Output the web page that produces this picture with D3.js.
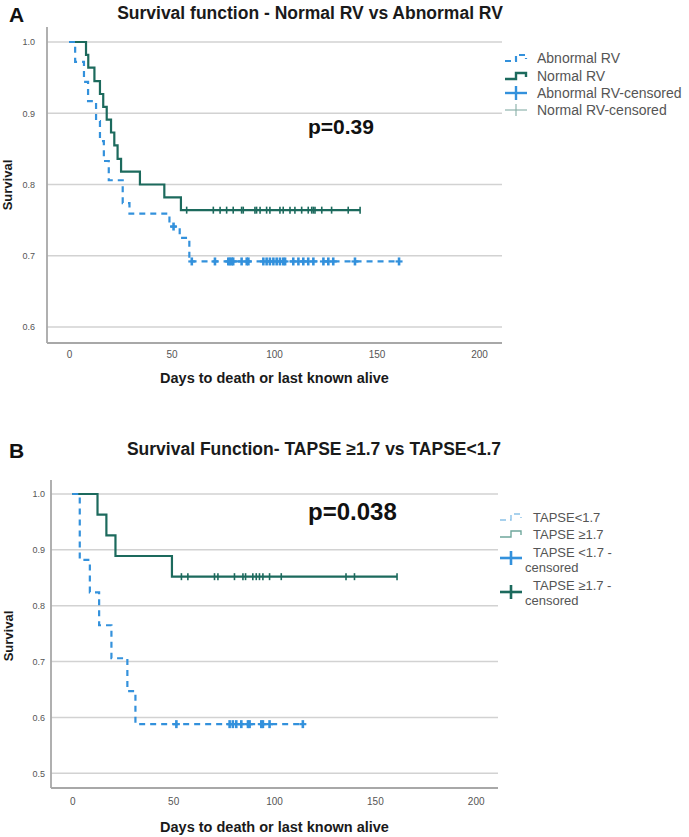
<!DOCTYPE html>
<html>
<head>
<meta charset="utf-8">
<script src="https://cdn.jsdelivr.net/npm/d3@7"></script>
<style>
  html, body { margin: 0; padding: 0; background: #fff; }
  svg { display: block; font-family: "Liberation Sans", Arial, sans-serif; }
</style>
</head>
<body>
<svg id="chart" width="689" height="837"></svg>
<script>
// ---------------- DATA ----------------
// Panel A
const titleA = "Survival function - Normal RV vs Abnormal RV";
const abnTimes = [3, 7.3, 9.3, 13.2, 15.1, 17, 19.4, 26.2, 29.5, 49, 54, 58.7];
const abnSurv  = [0.972, 0.944, 0.917, 0.889, 0.861, 0.833, 0.806, 0.774, 0.759, 0.741, 0.725, 0.692];
const abnCens  = [51, 59.9, 71.2, 77.7, 78.5, 79.4, 80.1, 84.2, 86.7, 87.5, 94.8, 96.4, 98, 99.7, 101.3, 102.9, 104.5, 105.4, 109.4, 111.9, 114.3, 116.7, 119.2, 124.1, 126.5, 128.9, 139.5, 161];
const norTimes = [8.3, 9.4, 12.4, 15.1, 16.7, 18.4, 20.5, 22.1, 23.7, 25.4, 34.6, 46.5, 54.6];
const norSurv  = [0.982, 0.964, 0.945, 0.927, 0.909, 0.891, 0.873, 0.855, 0.836, 0.818, 0.800, 0.782, 0.764];
const norCens  = [57.4, 70.4, 73.7, 76.9, 80.1, 84.2, 85, 90.7, 91.5, 93.2, 96.4, 98, 102.9, 104.5, 107.8, 110.2, 113.5, 116.7, 118.4, 119.2, 120, 123.3, 128.1, 136.2, 142];
const yTicksA = [0.6, 0.7, 0.8, 0.9, 1.0];
const legendA = ["Abnormal RV", "Normal RV", "Abnormal RV-censored", "Normal RV-censored"];
const pA = "p=0.39";

// Panel B
const titleB = "Survival Function- TAPSE \u22651.7 vs TAPSE<1.7";
const lowTimes = [3.7, 8.7, 13.3, 19.4, 27.3, 31.3];
const lowSurv  = [0.882, 0.824, 0.765, 0.706, 0.647, 0.588];
const lowCens  = [51.6, 78, 79.6, 81.3, 83.8, 87.1, 87.9, 93.7, 94.5, 97.8, 114.3];
const highTimes = [12.5, 16.9, 21.4, 49.4];
const highSurv  = [0.963, 0.926, 0.889, 0.852];
const highCens  = [54.1, 57.3, 70.5, 72.2, 80.4, 84.6, 85.9, 89.5, 91.2, 92.8, 94.5, 97.8, 103.6, 135.7, 139.9, 161];
const yTicksB = [0.5, 0.6, 0.7, 0.8, 0.9, 1.0];
const pB = "p=0.038";

const xTicks = [0, 50, 100, 150, 200];
const xTitle = "Days to death or last known alive";
const yTitle = "Survival";

// ---------------- DRAW ----------------
const svg = d3.select("#chart");
const TEAL = "#1c6a5d", BLUE = "#3391dc", GRID = "#d2d2d2", AXIS = "#a8a8a8", TXT = "#555";

function stepPoints(times, surv, cens) {
  const pts = [[0, 1]];
  times.forEach((t, i) => pts.push([t, surv[i]]));
  const end = Math.max(d3.max(times), d3.max(cens));
  pts.push([end, surv[surv.length - 1]]);
  return pts;
}
function survAt(times, surv, t) {
  let s = 1;
  times.forEach((tt, i) => { if (tt <= t) s = surv[i]; });
  return s;
}

function panel(cfg) {
  const x = d3.scaleLinear().domain([0, 200]).range(cfg.xr);
  const y = d3.scaleLinear().domain(cfg.yd).range(cfg.yr);
  const g = svg.append("g");

  // gridlines
  g.selectAll(".grid").data(cfg.yTicks).enter().append("line")
    .attr("x1", cfg.left).attr("x2", cfg.right)
    .attr("y1", d => y(d)).attr("y2", d => y(d))
    .attr("stroke", GRID).attr("stroke-width", 1.5);

  // y axis
  const ya = d3.axisLeft(y).tickValues(cfg.yTicks).tickFormat(d3.format(".1f")).tickSize(0).tickPadding(0);
  const yg = g.append("g").attr("transform", `translate(${cfg.yLabX},0)`).call(ya);
  yg.select(".domain").remove();
  yg.selectAll("text").attr("font-size", 9).attr("fill", TXT).attr("font-family", "Liberation Sans, Arial, sans-serif");
  g.append("line").attr("x1", cfg.left).attr("x2", cfg.left).attr("y1", cfg.top).attr("y2", cfg.bottom)
    .attr("stroke", AXIS).attr("stroke-width", 1.8);

  // x axis
  const xa = d3.axisBottom(x).tickValues(xTicks).tickSize(0).tickPadding(0);
  const xg = g.append("g").attr("transform", `translate(0,${cfg.xLabY})`).call(xa);
  xg.select(".domain").remove();
  xg.selectAll("text").attr("font-size", 10).attr("fill", TXT).attr("dy", 0).attr("font-family", "Liberation Sans, Arial, sans-serif");
  g.append("line").attr("x1", cfg.left).attr("x2", cfg.right).attr("y1", cfg.bottom).attr("y2", cfg.bottom)
    .attr("stroke", AXIS).attr("stroke-width", 2);

  // titles
  g.append("text").attr("x", (cfg.left + cfg.right) / 2).attr("y", cfg.xTitleY).attr("text-anchor", "middle")
    .attr("font-size", 14.5).attr("font-weight", "bold").attr("fill", "#1a1a1a").text(xTitle);
  g.append("text").attr("transform", `translate(${cfg.yTitleX},${cfg.yTitleY}) rotate(-90)`).attr("text-anchor", "middle")
    .attr("font-size", 13).attr("font-weight", "bold").attr("fill", "#1a1a1a").text(yTitle);
  g.append("text").attr("x", cfg.titleX).attr("y", cfg.titleY).attr("text-anchor", "middle")
    .attr("font-size", 17.5).attr("font-weight", "bold").attr("fill", "#1a1a1a").text(cfg.title);
  g.append("text").attr("x", 9).attr("y", cfg.letterY).attr("font-size", 21).attr("font-weight", "bold")
    .attr("fill", "#111").text(cfg.letter);
  g.append("text").attr("x", 308).attr("y", cfg.pY).attr("font-size", cfg.pSize).attr("font-weight", "bold")
    .attr("fill", "#111").text(cfg.p);

  const line = d3.line().x(d => x(d[0])).y(d => y(d[1])).curve(d3.curveStepAfter);

  cfg.series.forEach(s => {
    g.append("path").attr("d", line(stepPoints(s.times, s.surv, s.cens)))
      .attr("fill", "none").attr("stroke", s.color).attr("stroke-width", s.w)
      .attr("stroke-dasharray", s.dash || null);
    s.cens.forEach(c => {
      const cx = x(c), cy = y(survAt(s.times, s.surv, c));
      g.append("line").attr("x1", cx).attr("x2", cx).attr("y1", cy - s.tick).attr("y2", cy + s.tick)
        .attr("stroke", s.color).attr("stroke-width", s.tw);
      g.append("line").attr("x1", cx - s.hbar).attr("x2", cx + s.hbar).attr("y1", cy).attr("y2", cy)
        .attr("stroke", s.color).attr("stroke-width", s.w);
    });
  });
  return g;
}

panel({
  xr: [69, 479], yd: [0.6, 1.0], yr: [327, 42],
  left: 47, right: 502, top: 27, bottom: 343,
  yTicks: yTicksA, yLabX: 35, xLabY: 358, xTitleY: 383,
  yTitleX: 12, yTitleY: 185,
  title: titleA, titleX: 310, titleY: 19, letter: "A", letterY: 22,
  p: pA, pY: 134, pSize: 21,
  series: [
    { times: norTimes, surv: norSurv, cens: norCens, color: TEAL, w: 2.2, tick: 3.5, tw: 1.6, hbar: 0 },
    { times: abnTimes, surv: abnSurv, cens: abnCens, color: BLUE, w: 2.2, dash: "6,5", tick: 4, tw: 2.6, hbar: 3.5 }
  ]
});

panel({
  xr: [72.3, 475.7], yd: [0.5, 1.0], yr: [773.3, 494],
  left: 51, right: 498, top: 480, bottom: 788,
  yTicks: yTicksB, yLabX: 45, xLabY: 805, xTitleY: 832,
  yTitleX: 13, yTitleY: 636,
  title: titleB, titleX: 314, titleY: 455, letter: "B", letterY: 458,
  p: pB, pY: 520, pSize: 24,
  series: [
    { times: highTimes, surv: highSurv, cens: highCens, color: TEAL, w: 2.2, tick: 3.5, tw: 1.6, hbar: 0 },
    { times: lowTimes, surv: lowSurv, cens: lowCens, color: BLUE, w: 2.2, dash: "6,5", tick: 4, tw: 2.6, hbar: 3.5 }
  ]
});

// ---------------- LEGENDS ----------------
function stepSym(g, x0, yc, color, w, dash) {
  g.append("path").attr("d", `M${x0},${yc + 3}H${x0 + 11}V${yc - 3}H${x0 + 21}V${yc + 1}`)
    .attr("fill", "none").attr("stroke", color).attr("stroke-width", w).attr("stroke-dasharray", dash || null);
}
function plusSym(g, x0, yc, color, w, half) {
  g.append("line").attr("x1", x0).attr("x2", x0 + 22).attr("y1", yc).attr("y2", yc).attr("stroke", color).attr("stroke-width", w);
  g.append("line").attr("x1", x0 + 11).attr("x2", x0 + 11).attr("y1", yc - half).attr("y2", yc + half).attr("stroke", color).attr("stroke-width", w);
}

const lgA = svg.append("g");
const lgAY = [58, 76, 93, 110];
stepSym(lgA, 505, lgAY[0], BLUE, 2.2, "6,4");
stepSym(lgA, 505, lgAY[1], TEAL, 2.4);
plusSym(lgA, 505, lgAY[2], BLUE, 2.4, 7);
plusSym(lgA, 505, lgAY[3], "#86aea6", 1.1, 6);
legendA.forEach((t, i) => lgA.append("text").attr("x", 537).attr("y", lgAY[i] + 5)
  .attr("font-size", 14).attr("fill", TXT).text(t));

const lgB = svg.append("g");
stepSym(lgB, 500, 517, "#8cc2e8", 1.4, "6,4");
stepSym(lgB, 500, 534, "#6fa79c", 1.4);
plusSym(lgB, 500, 558, BLUE, 2.6, 7);
plusSym(lgB, 500, 592, TEAL, 2.6, 7);
const lgBText = [
  ["TAPSE<1.7", 533, 522], ["TAPSE \u22651.7", 533, 539],
  ["TAPSE <1.7 -", 533, 557], ["censored", 525, 572],
  ["TAPSE \u22651.7 -", 533, 590], ["censored", 525, 605]
];
lgBText.forEach(d => lgB.append("text").attr("x", d[1]).attr("y", d[2]).attr("font-size", 13).attr("fill", TXT).text(d[0]));
</script>
</body>
</html>
